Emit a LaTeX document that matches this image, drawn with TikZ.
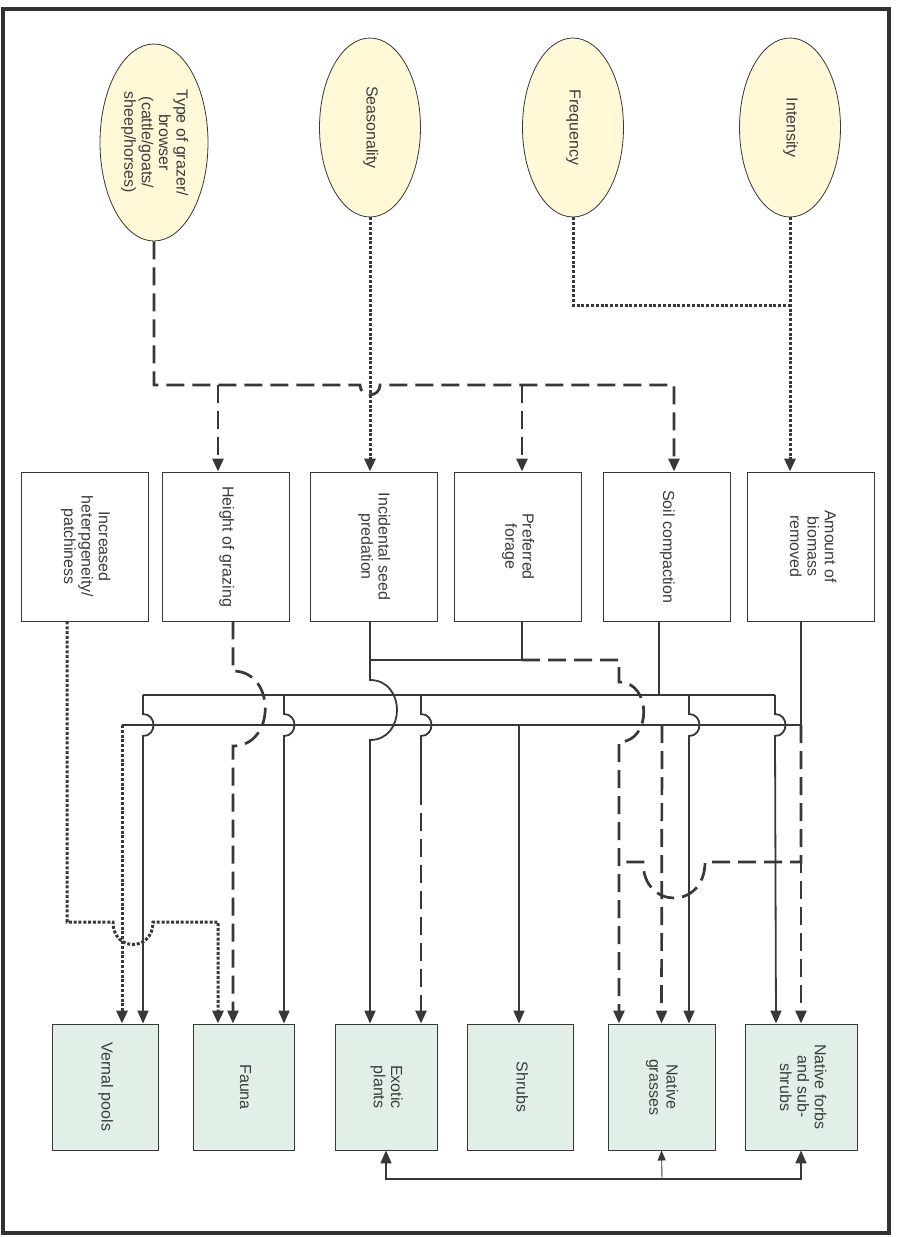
\documentclass[tikz,border=0pt]{standalone}
\usepackage{fontspec}
\setmainfont{Liberation Sans}
\usepackage{graphicx}
\usetikzlibrary{shapes.geometric,arrows.meta,calc}
\definecolor{linegrey}{RGB}{55,55,60}
\definecolor{textgrey}{RGB}{60,60,62}
\definecolor{framegrey}{RGB}{50,50,52}
\definecolor{factorfill}{RGB}{255,249,215}
\definecolor{targetfill}{RGB}{226,239,230}
\newcommand{\vtext}[1]{\rotatebox{-90}{\begin{tabular}{@{}c@{}}#1\end{tabular}}}
\tikzset{
  factor/.style={ellipse, draw=linegrey, fill=factorfill, line width=0.8pt, inner sep=0pt, minimum width=101pt, minimum height=179pt},
  effect/.style={rectangle, draw=linegrey, fill=white, line width=0.9pt, inner sep=0pt, minimum width=127pt, minimum height=149pt},
  target/.style={rectangle, draw=linegrey, fill=targetfill, line width=0.9pt, inner sep=0pt, minimum width=106pt, minimum height=126pt},
  link/.style={draw=linegrey, line width=1.8pt},
  dashlink/.style={link, line width=2.7pt, dash pattern=on 18pt off 8pt},
  dotlink/.style={link, line width=3pt, dash pattern=on 3pt off 1.8pt},
  tip/.style={-{Triangle[length=13pt,width=11pt]}},
}

\begin{document}
\begin{tikzpicture}[x=1pt, y=-1pt, font=\fontsize{16}{17.4}\selectfont, text=textgrey]
    \useasboundingbox (0,0) rectangle (898,1237);
    \draw[framegrey, line width=3.5pt] (3,9) rectangle (889,1233);

    % grazing factors
    \node[factor, minimum width=108pt, minimum height=197pt] (typ) at (154,142.5) {\vtext{Type of grazer/\\browser\\(cattle/goats/\\sheep/horses)}};
    \node[factor] (seas) at (370,127.5) {\vtext{Seasonality}};
    \node[factor] (freq) at (573,127.5) {\vtext{Frequency}};
    \node[factor] (inten) at (790,127.5) {\vtext{Intensity}};

    % effects
    \node[effect] (het) at (85,546.5) {\vtext{Increased\\heterpgeneity/\\patchiness}};
    \node[effect] (hgt) at (226,546.5) {\vtext{Height of grazing}};
    \node[effect] (inc) at (373.5,546.5) {\vtext{Incidental seed\\predation}};
    \node[effect] (pref) at (517.5,546.5) {\vtext{Preferred\\forage}};
    \node[effect] (soil) at (666.5,546.5) {\vtext{Soil compaction}};
    \node[effect] (amt) at (811,546.5) {\vtext{Amount of\\biomass\\removed}};

    % resources
    \node[target] (vern) at (105,1087) {\vtext{Vernal pools}};
    \node[target, minimum width=101pt] (fauna) at (243.5,1087) {\vtext{Fauna}};
    \node[target, minimum width=102pt] (exo) at (386,1087) {\vtext{Exotic\\plants}};
    \node[target] (shr) at (520,1087) {\vtext{Shrubs}};
    \node[target, minimum width=107pt] (ngr) at (661.5,1087) {\vtext{Native\\grasses}};
    \node[target, minimum width=112pt] (nfb) at (801,1087) {\vtext{Native forbs\\and sub-\\shrubs}};

    \coordinate (tj1) at (218,385);
    \coordinate (tj2) at (522,385);
    \coordinate (fi) at (790,305);
    \coordinate (pj) at (522,660);
    \coordinate (ij) at (370,660);
    \coordinate (sj) at (659,695);
    \coordinate (aj) at (801,725);
    \coordinate (fb) at (662,1179);

    % top connectors
    \draw[dashlink, tip] (typ.south) -- (154,385) -- (360,385) .. controls (360,398) and (380,398) .. (380,385) -- (674,385) -- ([xshift=7.5pt]soil.north);
    \draw[dashlink, tip] (tj1) -- ([xshift=-8pt]hgt.north);
    \draw[dashlink, tip] (tj2) -- ([xshift=4.5pt]pref.north);
    \draw[dotlink, tip] (seas.south) -- (seas.south |- inc.north);
    \draw[dotlink] (freq.south) |- (fi);
    \draw[dotlink, tip] (inten.south) -- (inten.south |- amt.north);

    % buses
    \draw[link] (143,695) -- (775,695);
    \draw[link] (122,725) -- (aj);
    \draw[link] ([xshift=-7.5pt]soil.south) -- (sj);
    \draw[link] ([xshift=-10pt]amt.south) -- (aj);
    \draw[link] ([xshift=4.5pt]pref.south) -- (pj) -- (ij);

    % effect connectors
    \draw[dotlink, tip] ([xshift=-18pt]het.south) -- (67,922) -- (113,922) .. controls (113,952) and (153,952) .. (153,922) -- (218,922) -- ([xshift=-25.5pt]fauna.north);
    \draw[dashlink, tip] ([xshift=7pt]hgt.south) -- (233,671) .. controls (276,671) and (276,746) .. (233,746) -- ([xshift=-10.5pt]fauna.north);
    \draw[link, tip] ([xshift=-3.5pt]inc.south) -- (370,680) .. controls (406,680) and (406,740) .. (370,740) -- ([xshift=-16pt]exo.north);
    \draw[dashlink, tip] (pj) -- (619,660) -- (619,682) .. controls (652,682) and (652,742) .. (619,742) -- ([xshift=-42.5pt]ngr.north);
    \draw[dashlink] (aj) -- (801,862) -- (705,862) .. controls (705,910) and (643,910) .. (643,862) -- (619,862);

    % drops from upper bus
    \draw[link, tip] (143,695) -- (143,714) .. controls (157,714) and (157,736) .. (143,736) -- ([xshift=38pt]vern.north);
    \draw[link, tip] (284,695) -- (284,714) .. controls (298,714) and (298,736) .. (284,736) -- ([xshift=40.5pt]fauna.north);
    \draw[link] (421,695) -- (421,714) .. controls (435,714) and (435,736) .. (421,736) -- (421,787);
    \draw[dashlink, tip] (421,787) -- ([xshift=35pt]exo.north);
    \draw[link, tip] (689,695) -- (689,714) .. controls (703,714) and (703,736) .. (689,736) -- ([xshift=27.5pt]ngr.north);
    \draw[link, tip] (775,695) -- (775,714) .. controls (789,714) and (789,736) .. (775,736) -- ([xshift=-25pt]nfb.north);

    % drops from lower bus
    \draw[dotlink, tip] (122,725) -- ([xshift=17pt]vern.north);
    \draw[link, tip] (519,725) -- ([xshift=-1pt]shr.north);
    \draw[dashlink, tip] (662,725) -- (ngr.north);
    \draw[dashlink, tip] (aj) -- (nfb.north);

    % feedback
    \draw[link, {Triangle[length=13pt,width=11pt]}-{Triangle[length=13pt,width=11pt]}] (exo.south) |- (fb) -| (nfb.south);
    \draw[linegrey, line width=0.9pt, -{Triangle[length=10pt,width=8pt]}] (fb) -- (ngr.south);
\end{tikzpicture}
\end{document}
